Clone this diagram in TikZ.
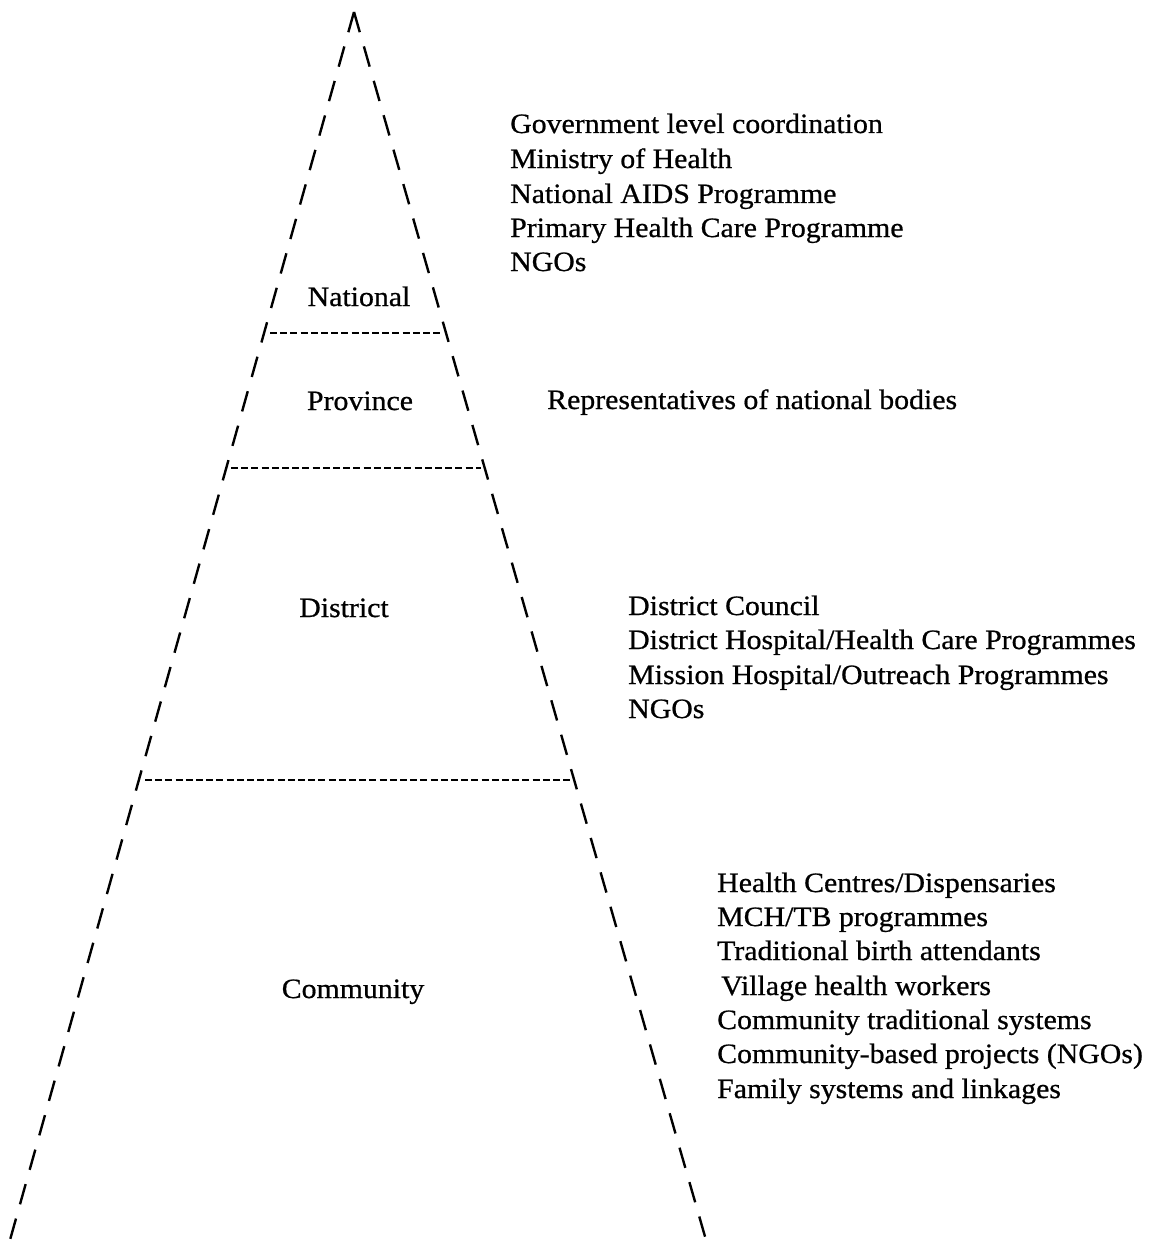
\documentclass[tikz,border=0pt]{standalone}
\usepackage{fontspec}
\setmainfont[FakeStretch=1.065,FakeBold=0.7]{Liberation Serif}
\usetikzlibrary{calc}
\begin{document}
\begin{tikzpicture}[x=1pt,y=-1pt,
  side/.style={line width=2.4pt,dash pattern=on 21pt off 14.8pt},
  divider/.style={line width=1.9pt,dash pattern=on 7pt off 3.2pt},
  lbl/.style={inner sep=0pt,anchor=base west,font=\fontsize{28}{34}\selectfont},
  lvl/.style={inner sep=0pt,anchor=base,font=\fontsize{28}{34}\selectfont}]
\useasboundingbox (0,0) rectangle (1154,1260);
% pyramid sides
\coordinate (apex) at (354,12);
\coordinate (lb) at (10,1240);
\coordinate (rb) at (706,1240);
\draw[side] (apex) -- (lb);
\draw[side] (apex) -- (rb);
% dividers
\coordinate (d1l) at (270,333);
\coordinate (d1r) at (442,333);
\coordinate (d2l) at (231,468);
\coordinate (d2r) at (481,468);
\coordinate (d3l) at (145,780);
\coordinate (d3r) at (572,780);
\draw[divider] (d1l) -- (d1r);
\draw[divider] (d2l) -- (d2r);
\draw[divider] (d3l) -- (d3r);
% level names
\node[lvl] (national) at (359,306) {National};
\node[lvl] (province) at (360,410) {Province};
\node[lvl] (district) at (344,617) {District};
\node[lvl] (community) at (353,998) {Community};
% national bodies
\node[lbl] (n1) at (510,133) {Government level coordination};
\node[lbl] (n2) at (510,168) {Ministry of Health};
\node[lbl] (n3) at (510,203) {National AIDS Programme};
\node[lbl] (n4) at (510,237) {Primary Health Care Programme};
\node[lbl] (n5) at (510,271) {NGOs};
% province
\node[lbl] (p1) at (547,409) {Representatives of national bodies};
% district
\node[lbl] (t1) at (628,615) {District Council};
\node[lbl] (t2) at (628,649) {District Hospital/Health Care Programmes};
\node[lbl] (t3) at (628,684) {Mission Hospital/Outreach Programmes};
\node[lbl] (t4) at (628,718) {NGOs};
% community
\node[lbl] (c1) at (717,892) {Health Centres/Dispensaries};
\node[lbl] (c2) at (717,926) {MCH/TB programmes};
\node[lbl] (c3) at (717,960) {Traditional birth attendants};
\node[lbl] (c4) at (721,995) {Village health workers};
\node[lbl] (c5) at (717,1029) {Community traditional systems};
\node[lbl] (c6) at (717,1063) {Community-based projects (NGOs)};
\node[lbl] (c7) at (717,1098) {Family systems and linkages};
\end{tikzpicture}
\end{document}
